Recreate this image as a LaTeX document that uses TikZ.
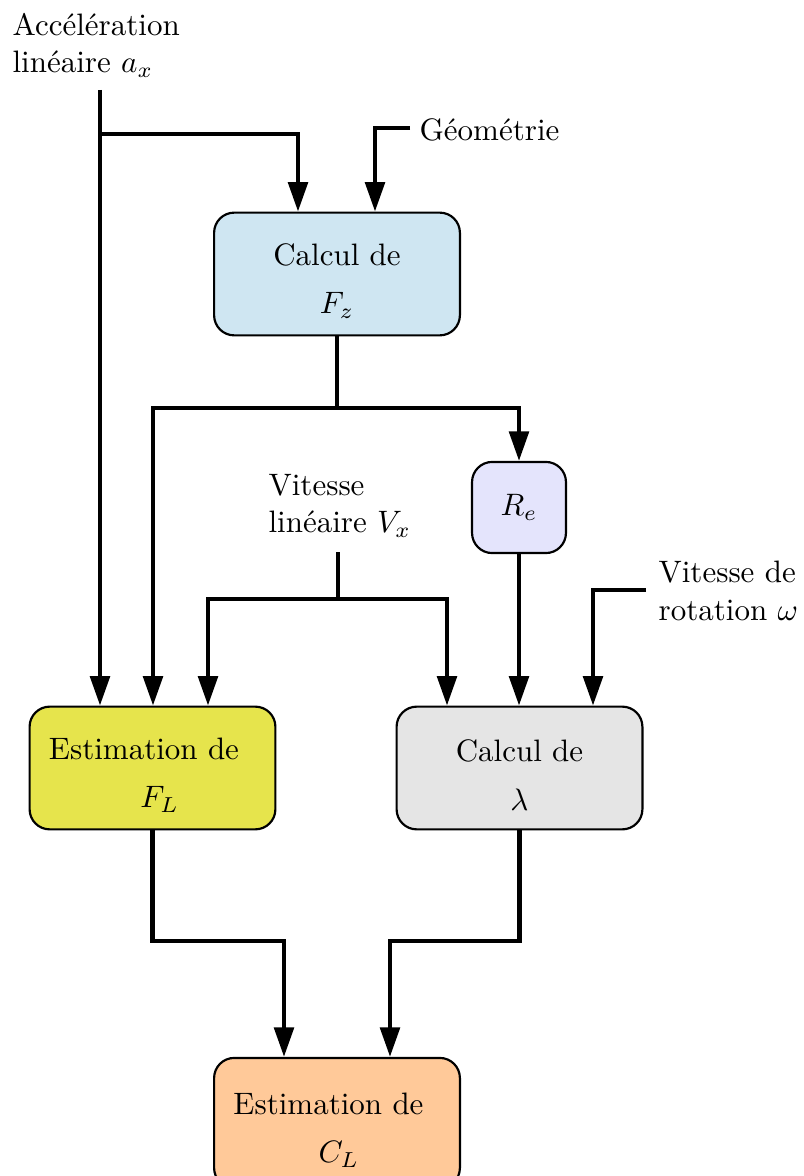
\documentclass[tikz,border=0pt]{standalone}
\usepackage{fontspec}
\usetikzlibrary{arrows.meta}
\definecolor{fzblue}{RGB}{207,230,242}
\definecolor{relav}{RGB}{228,228,252}
\definecolor{flyel}{RGB}{230,228,76}
\definecolor{lamgray}{RGB}{229,229,229}
\definecolor{clpeach}{RGB}{255,201,153}
\newcommand\boxstrut{\rule{0pt}{11.5pt}}
\tikzset{
  blockbox/.style={draw=black, line width=0.7pt, rounded corners=6.5pt, align=center,
    minimum width=79.3pt, minimum height=39.6pt, inner sep=0pt},
  smallbox/.style={draw=black, line width=0.7pt, rounded corners=6.5pt, align=center,
    minimum width=30.3pt, minimum height=29.4pt, inner sep=0pt},
  extlabel/.style={align=left, inner sep=0pt, anchor=west},
  conn/.style={line width=1.3pt},
  arr/.style={conn, -{Triangle[length=9.5pt,width=6.3pt]}}
}
\begin{document}
\begin{tikzpicture}[x=0.3226pt, y=-0.3226pt]
\clip (0,0) rectangle (803,1176);
\fill[white] (0,0) rectangle (803,1176);

% blocks
\node[blockbox, fill=fzblue] (fz) at (337,274) {\boxstrut Calcul de\\[3.6pt]$F_z$};
\node[smallbox, fill=relav] (re) at (519,507.5) {$R_e$};
\node[blockbox, fill=flyel] (fl) at (152.5,768) {\boxstrut Estimation de\kern5.5pt\\[3.6pt]\kern4.6pt$F_L$};
\node[blockbox, fill=lamgray] (lam) at (519.5,768) {\boxstrut Calcul de\\[3.6pt]$\lambda$};
\node[blockbox, fill=clpeach, minimum height=42pt] (cl) at (337,1123) {\boxstrut Estimation de\kern5.5pt\\[3.6pt]\kern1.2pt$C_L$};

% external labels
\node[extlabel] (acc) at (12,45) {Accélération\\linéaire $a_x$};
\node[extlabel] (geo) at (419,130) {Géométrie};
\node[extlabel] (vx) at (268,506) {Vitesse\\linéaire $V_x$};
\node[extlabel] (om) at (658,591) {Vitesse de\\rotation $\omega$};

% free ends
\coordinate (a0) at (100,90);
\coordinate (a1) at (100,134);
\coordinate (g0) at (410,128);
\coordinate (s1) at (337,408);
\coordinate (v0) at (338,552);
\coordinate (v1) at (338,599);
\coordinate (o0) at (646,590);

% connectors
\draw[arr] (a0) |- (298,134) -- (298,0 |- fz.north);
\draw[arr] (a1) -- (100,0 |- fl.north);
\draw[arr] (g0) -| (375,0 |- fz.north);
\draw[conn] (fz.south) -- (s1);
\draw[arr] (s1) -| (153,0 |- fl.north);
\draw[arr] (s1) -| (re.north);
\draw[arr] (re.south) -- (re.south |- lam.north);
\draw[conn] (v0) -- (v1);
\draw[arr] (v1) -| (208,0 |- fl.north);
\draw[arr] (v1) -| (447,0 |- lam.north);
\draw[arr] (o0) -| (593,0 |- lam.north);
\draw[arr] (fl.south) |- (284,941) -- (284,0 |- cl.north);
\draw[arr] (lam.south) |- (390,941) -- (390,0 |- cl.north);
\end{tikzpicture}
\end{document}
